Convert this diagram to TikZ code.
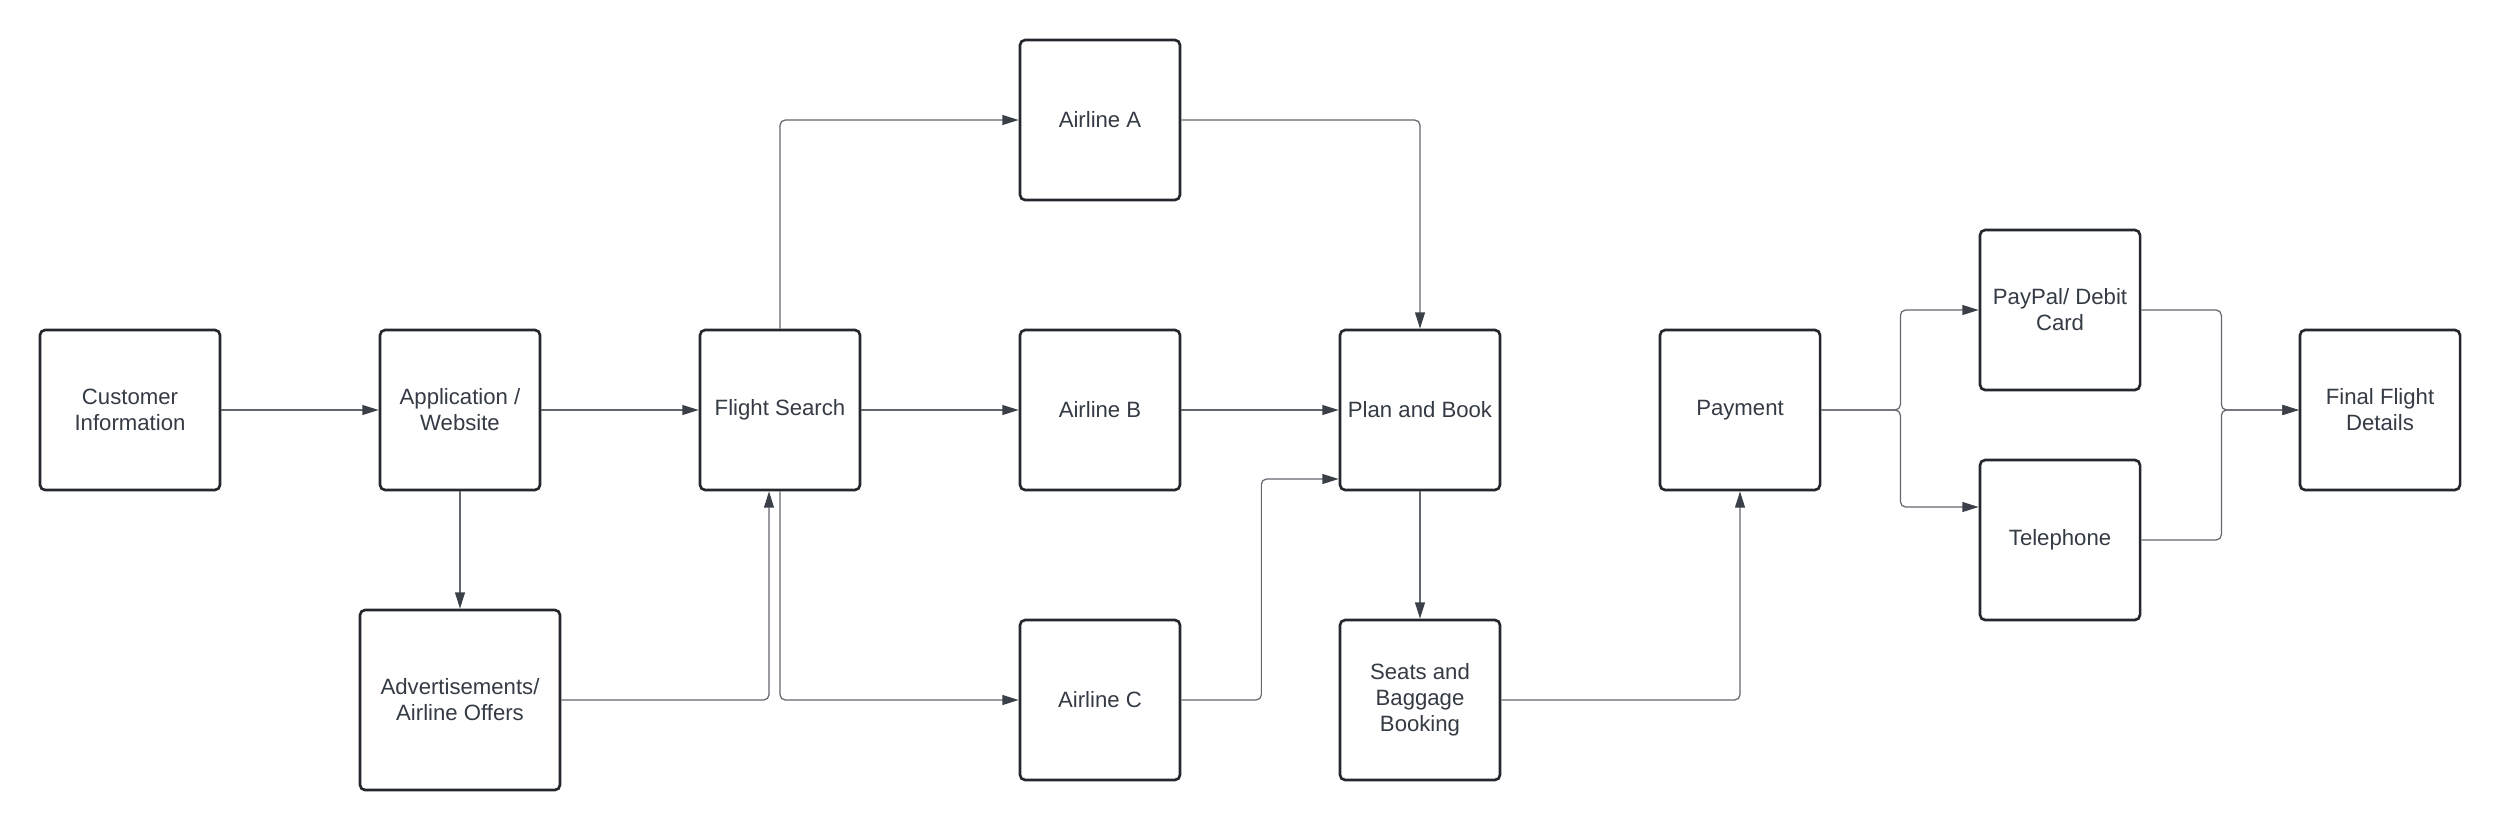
\documentclass[tikz,border=0pt]{standalone}
\usepackage{fontspec}
\setmainfont{Liberation Sans}
\usepackage{xcolor}
\usepackage{tikz}
\usetikzlibrary{arrows.meta,calc}
\definecolor{boxline}{HTML}{24272D}
\definecolor{boxtext}{HTML}{353B45}
\definecolor{linkline}{HTML}{62666D}
\definecolor{tipfill}{HTML}{3A3F48}

\begin{document}
\begin{tikzpicture}[%
  x=0.01cm, y=-0.01cm,
  box/.style={draw=boxline,line width=0.75pt,rounded corners=1.5pt,fill=white,
    text=boxtext,align=center,inner sep=0pt,minimum width=1.6cm,minimum height=1.6cm,
    font=\fontsize{6.3}{7.4}\selectfont},
  link/.style={draw=linkline,line width=0.35pt,rounded corners=1.5pt,
    -{Triangle[length=4.6pt,width=2.8pt,color=tipfill]}}
]
  \useasboundingbox (0,0) rectangle (2500,830);

  \node [box,minimum width=1.8cm] (cust) at (130,410) {Customer\\Information};
  \node [box] (app) at (460,410) {Application /\\Website};
  \node [box,minimum width=2.0cm,minimum height=1.8cm] (ads) at (460,700) {Advertisements/\\Airline Offers};
  \node [box] (search) at (780,410) {Flight Search};
  \node [box] (airA) at (1100,120) {Airline A};
  \node [box] (airB) at (1100,410) {Airline B};
  \node [box] (airC) at (1100,700) {Airline C};
  \node [box] (plan) at (1420,410) {Plan and Book};
  \node [box] (seats) at (1420,700) {Seats and\\Baggage\\Booking};
  \node [box] (pay) at (1740,410) {Payment};
  \node [box] (paypal) at (2060,310) {PayPal/ Debit\\Card};
  \node [box] (phone) at (2060,540) {Telephone};
  \node [box] (final) at (2380,410) {Final Flight\\Details};

  \draw [link] (cust) -- (app);
  \draw [link] (app) -- (search);
  \draw [link] (app) -- (ads);
  \draw [link] (ads.east) -| ($(search.south)+(-11,0)$);
  \draw [link] (search.north) |- (airA.west);
  \draw [link] (search) -- (airB);
  \draw [link] (search.south) |- (airC.west);
  \draw [link] (airA.east) -| (plan.north);
  \draw [link] (airB) -- (plan);
  \draw [link] (airC.east) -- ++(80,0) |- ($(plan.west)+(0,69)$);
  \draw [link] (plan) -- (seats);
  \draw [link] (seats.east) -| (pay.south);
  \draw [link] (pay.east) -- ++(79,0) |- (paypal.west);
  \draw [link] (pay.east) -- ++(79,0) |- ($(phone.west)+(0,-33)$);
  \draw [link] (paypal.east) -- ++(80,0) |- (final.west);
  \draw [link] (phone.east) -- ++(80,0) |- (final.west);
\end{tikzpicture}
\end{document}
